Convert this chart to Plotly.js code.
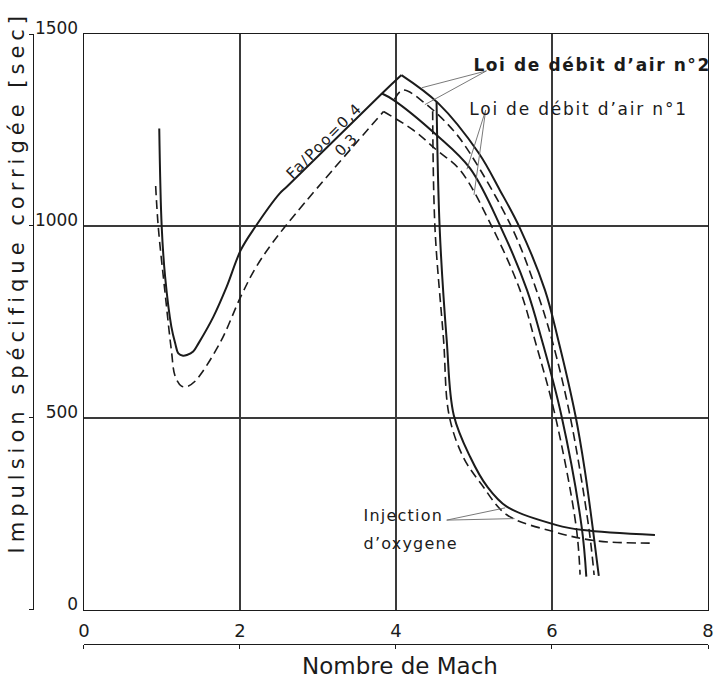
<!DOCTYPE html>
<html><head><meta charset="utf-8">
<script src="https://cdn.plot.ly/plotly-3.0.1.min.js"></script>
<style>body{margin:0;background:#fff}</style>
</head><body><div id="chart" style="width:714px;height:683px"></div>
<script>
// Fa/Poo = 0,4 (solid) : common branch rising to the peak of "loi n°2"
const machRise04 = [0.965, 0.996, 1.04, 1.12, 1.17, 1.21, 1.27, 1.32, 1.40, 1.47, 1.66, 1.83, 2.01, 2.19, 2.51, 2.60, 3.82, 4.07];
const impRise04  = [1254, 1000, 868, 738, 694, 668, 662, 664, 673, 695, 764, 842, 937, 996, 1085, 1102, 1345, 1393];
// Fa/Poo = 0,4, loi de débit d'air n°2 (descending)
const machLoi2_04 = [4.07, 4.54, 5.06, 5.33, 5.59, 5.91, 6.08, 6.30, 6.42, 6.52, 6.60];
const impLoi2_04  = [1393, 1320, 1190, 1094, 994, 833, 703, 507, 365, 217, 89];
// Fa/Poo = 0,4, loi de débit d'air n°1 (descending)
const machLoi1_04 = [3.82, 3.97, 4.52, 4.95, 5.35, 5.68, 5.87, 6.12, 6.38, 6.44];
const impLoi1_04  = [1345, 1328, 1237, 1150, 994, 833, 703, 507, 217, 87];
// Fa/Poo = 0,3 (dashed) : common branch rising to the peak of "loi n°1"
const machRise03 = [0.919, 0.953, 1.04, 1.12, 1.17, 1.25, 1.32, 1.42, 1.74, 2.01, 2.21, 2.51, 3.84];
const impRise03  = [1104, 996, 825, 677, 608, 583, 582, 595, 694, 816, 894, 981, 1298];
// Fa/Poo = 0,3, loi n°1 (descending)
const machLoi1_03 = [3.84, 4.22, 4.52, 4.82, 5.24, 5.59, 5.78, 6.04, 6.31, 6.36];
const impLoi1_03  = [1298, 1250, 1198, 1146, 994, 833, 703, 507, 217, 92];
// Fa/Poo = 0,3, loi n°2
const machLoi2_03 = [3.98, 4.09, 4.37, 4.73, 4.95, 5.49, 5.80, 6.00, 6.23, 6.47, 6.54];
const impLoi2_03  = [1330, 1354, 1320, 1250, 1189, 994, 833, 703, 507, 217, 91];
// Injection d'oxygène
const machInj04 = [4.52, 4.56, 4.65, 4.74, 4.95, 5.17, 5.42, 6.06, 6.40, 7.32];
const impInj04  = [1324, 994, 703, 508, 399, 321, 269, 221, 208, 195];
const machInj03 = [4.47, 4.50, 4.61, 4.68, 4.86, 5.10, 5.42, 6.02, 6.57, 7.32];
const impInj03  = [1299, 994, 703, 508, 399, 326, 248, 204, 180, 174];

const xTicks = [0, 2, 4, 6, 8];
const yTicks = [0, 500, 1000, 1500];

const FONT = 'DejaVu Sans, sans-serif';
const INK = '#1b1b1b';

function solid(x, y) {
  return {x, y, type: 'scatter', mode: 'lines', hoverinfo: 'skip', showlegend: false,
          line: {color: INK, width: 2, shape: 'spline', smoothing: 1}};
}
function dashed(x, y) {
  return {x, y, type: 'scatter', mode: 'lines', hoverinfo: 'skip', showlegend: false,
          line: {color: INK, width: 1.6, dash: '9px,5px', shape: 'spline', smoothing: 1}};
}

const data = [
  solid(machRise04, impRise04),
  solid(machLoi2_04, impLoi2_04),
  solid(machLoi1_04, impLoi1_04),
  dashed(machRise03, impRise03),
  dashed(machLoi1_03, impLoi1_03),
  dashed(machLoi2_03, impLoi2_03),
  solid(machInj04, impInj04),
  dashed(machInj03, impInj03),
  // empty trace so that the outer scale axes (x2 / y2) are drawn
  {x: [], y: [], type: 'scatter', mode: 'lines', xaxis: 'x2', yaxis: 'y2', showlegend: false, hoverinfo: 'skip'}
];

function leader(x0, y0, x1, y1) {
  return {type: 'line', xref: 'x', yref: 'y', x0, y0, x1, y1, line: {color: '#6a6a6a', width: 0.9}};
}

const layout = {
  width: 714, height: 683,
  margin: {l: 20, r: 6, t: 34, b: 20},
  paper_bgcolor: '#fff', plot_bgcolor: '#fff',
  font: {family: FONT, color: INK},
  showlegend: false,
  xaxis: {
    domain: [0.093, 1], range: [0, 8], tickvals: xTicks, ticktext: xTicks.map(String),
    showgrid: true, gridcolor: '#3a3a3a', gridwidth: 1.1,
    showline: true, mirror: true, linecolor: INK, linewidth: 1.4,
    zeroline: false, ticks: '', ticklabelstandoff: 4,
    tickfont: {family: FONT, size: 18, color: INK}
  },
  yaxis: {
    domain: [0.0843, 1], range: [0, 1500], tickvals: yTicks, ticktext: yTicks.map(String),
    showgrid: true, gridcolor: '#3a3a3a', gridwidth: 1.1,
    showline: true, mirror: true, linecolor: INK, linewidth: 1.4,
    zeroline: false, ticks: '', ticklabelstandoff: 1, ticklabelshift: -6,
    tickfont: {family: FONT, size: 17, color: INK}
  },
  xaxis2: {
    overlaying: 'x', anchor: 'free', position: 0.0302, side: 'bottom',
    range: [0, 8], tickvals: xTicks, showticklabels: false, showgrid: false, zeroline: false,
    showline: true, linecolor: INK, linewidth: 1.2, ticks: 'outside', ticklen: 4, tickcolor: INK
  },
  yaxis2: {
    overlaying: 'y', anchor: 'free', position: 0.0182, side: 'left',
    range: [0, 1500], tickvals: yTicks, showticklabels: false, showgrid: false, zeroline: false,
    showline: true, linecolor: INK, linewidth: 1.2, ticks: 'outside', ticklen: 4, tickcolor: INK
  },
  shapes: [
    leader(5.16, 1404, 4.33, 1360),
    leader(5.16, 1404, 4.37, 1316),
    leader(5.15, 1302, 4.91, 1148),
    leader(5.15, 1302, 5.00, 1081),
    leader(4.65, 234, 5.40, 266),
    leader(4.65, 234, 5.52, 238)
  ],
  annotations: [
    {xref: 'paper', yref: 'paper', x: -0.0044, y: 0.6057, text: 'Impulsion spécifique corrigée [sec]',
     textangle: -90, showarrow: false, xanchor: 'center', yanchor: 'middle',
     font: {family: FONT, size: 21, color: INK}},
    {xref: 'paper', yref: 'paper', x: 0.5523, y: -0.0048, text: 'Nombre de Mach',
     showarrow: false, xanchor: 'center', yanchor: 'middle',
     font: {family: FONT, size: 23, color: INK}},
    {xref: 'x', yref: 'y', x: 5.19, y: 1419, text: 'Loi de débit d’air n°2', showarrow: false,
     xanchor: 'left', yanchor: 'middle', font: {family: FONT, size: 17, color: INK, weight: 'bold'}},
    {xref: 'x', yref: 'y', x: 5.17, y: 1305, text: 'Loi de débit d’air n°1', showarrow: false,
     xanchor: 'left', yanchor: 'middle', font: {family: FONT, size: 17, color: INK}},
    {xref: 'x', yref: 'y', x: 3.63, y: 245, text: 'Injection', showarrow: false,
     xanchor: 'left', yanchor: 'middle', font: {family: FONT, size: 16, color: INK}},
    {xref: 'x', yref: 'y', x: 3.63, y: 174, text: 'd’oxygene', showarrow: false,
     xanchor: 'left', yanchor: 'middle', font: {family: FONT, size: 16, color: INK}},
    {xref: 'x', yref: 'y', x: 3.08, y: 1221, text: 'Fa/Poo=0,4', showarrow: false, textangle: -45,
     xanchor: 'center', yanchor: 'middle', font: {family: FONT, size: 15, color: INK}},
    {xref: 'x', yref: 'y', x: 3.36, y: 1211, text: '0,3', showarrow: false, textangle: -45,
     xanchor: 'center', yanchor: 'middle', font: {family: FONT, size: 15, color: INK}}
  ]
};

const spacing = {0: '5px', 2: '1.6px', 3: '1.8px', 4: '1.2px', 5: '1.2px', 6: '1.5px'};
Plotly.newPlot('chart', data, layout, {staticPlot: true, displayModeBar: false}).then(function () {
  document.querySelectorAll('g.annotation').forEach(function (g) {
    const idx = g.getAttribute('data-index');
    if (spacing[idx]) {
      g.querySelectorAll('text').forEach(function (t) { t.style.letterSpacing = spacing[idx]; });
    }
  });
});
</script>
</body></html>
